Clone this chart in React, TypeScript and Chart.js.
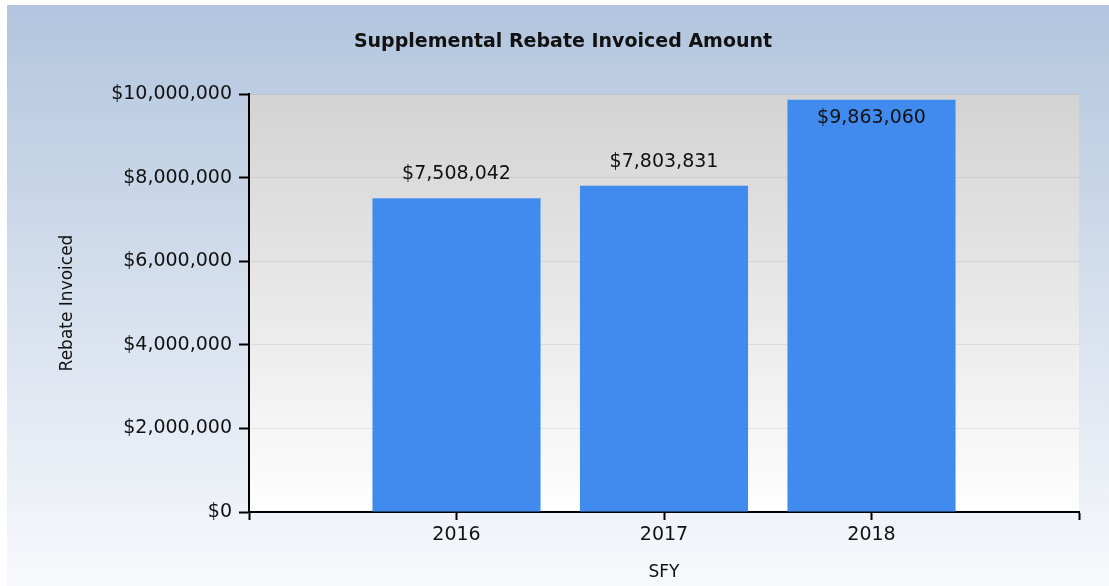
import React, { useEffect, useRef } from "react";
import { Chart, registerables } from "chart.js";

Chart.register(...registerables);

const chartTitle = "Supplemental Rebate Invoiced Amount";
const categories = ["2016", "2017", "2018"];
const years = [2016, 2017, 2018];
const rebateValues = [7508042, 7803831, 9863060];
const yAxisTitle = "Rebate Invoiced";
const xAxisTitle = "SFY";
const yMin = 0;
const yMax = 10000000;
const yStep = 2000000;
const xMin = 2015;
const xMax = 2019;

const FONT = "'DejaVu Sans', 'Liberation Sans', Arial, sans-serif";
const TEXT = "#111111";

const fmtMoney = (v: number) => "$" + Math.round(v).toLocaleString("en-US");

const backgroundPlugin = {
  id: "bgPlugin",
  beforeDraw(chart: any) {
    const { ctx, width, height, chartArea } = chart;
    ctx.save();
    const g = ctx.createLinearGradient(0, 0, 0, height);
    g.addColorStop(0, "#b2c5de");
    g.addColorStop(1, "#f8f9fc");
    ctx.fillStyle = g;
    ctx.fillRect(0, 0, width, height);
    if (chartArea) {
      const g2 = ctx.createLinearGradient(0, chartArea.top, 0, chartArea.bottom);
      g2.addColorStop(0, "#d3d3d3");
      g2.addColorStop(1, "#fefefe");
      ctx.fillStyle = g2;
      ctx.fillRect(chartArea.left, chartArea.top, chartArea.right - chartArea.left, chartArea.bottom - chartArea.top);
    }
    // chart title
    ctx.font = `bold 19px ${FONT}`;
    ctx.fillStyle = TEXT;
    ctx.textAlign = "center";
    ctx.textBaseline = "middle";
    ctx.fillText(chartTitle, 556, 37);
    ctx.restore();
  },
};

const labelPlugin = {
  id: "valueLabels",
  afterDatasetsDraw(chart: any) {
    const { ctx, chartArea } = chart;
    const meta = chart.getDatasetMeta(0);
    ctx.save();
    ctx.font = `19px ${FONT}`;
    ctx.fillStyle = TEXT;
    ctx.textAlign = "center";
    ctx.textBaseline = "middle";
    meta.data.forEach((bar: any, i: number) => {
      const text = fmtMoney(rebateValues[i]);
      let y = bar.y - 24;
      if (y - 12 < chartArea.top) y = bar.y + 18;
      ctx.fillText(text, bar.x, y);
    });
    ctx.restore();
  },
};

export default function App() {
  const ref = useRef<HTMLCanvasElement | null>(null);

  useEffect(() => {
    document.body.style.margin = "0";
    const canvas = ref.current;
    if (!canvas) return;
    const chart = new Chart(canvas, {
      type: "bar",
      data: {
        labels: categories,
        datasets: [
          {
            label: yAxisTitle,
            data: years.map((x, i) => ({ x, y: rebateValues[i] })) as any,
            backgroundColor: "#428bee",
            borderWidth: 0,
            barPercentage: 0.9,
            categoryPercentage: 0.9,
          },
        ],
      },
      options: {
        responsive: false,
        animation: false,
        devicePixelRatio: 1,
        layout: { padding: { top: 89, right: 30, bottom: 0, left: 0 } },
        plugins: {
          legend: { display: false },
          tooltip: { enabled: false },
          title: { display: false },
        },
        scales: {
          x: {
            type: "linear",
            min: xMin,
            max: xMax,
            offset: false,
            grid: {
              offset: false,
              drawOnChartArea: false,
              drawTicks: true,
              tickLength: 8,
              tickColor: "#000",
              tickWidth: 2,
            },
            border: { display: true, color: "#000", width: 2 },
            ticks: {
              stepSize: 1,
              autoSkip: false,
              maxRotation: 0,
              padding: 4,
              color: TEXT,
              font: { family: FONT, size: 19 },
              callback: (v: any) => (v === xMin || v === xMax ? "" : String(v)),
            },
            title: {
              display: true,
              text: xAxisTitle,
              color: TEXT,
              font: { family: FONT, size: 17 },
              padding: { top: 0, bottom: 3 },
            },
            afterFit: (s: any) => {
              s.height = 74;
            },
          } as any,
          y: {
            min: yMin,
            max: yMax,
            grid: {
              color: "rgba(0,0,0,0.07)",
              tickColor: "#000",
              tickLength: 10,
              tickWidth: 2,
            },
            border: { display: true, color: "#000", width: 2 },
            ticks: {
              stepSize: yStep,
              padding: 7,
              color: TEXT,
              font: { family: FONT, size: 19 },
              callback: (v: any) => fmtMoney(Number(v)),
            },
            title: {
              display: true,
              text: yAxisTitle,
              color: TEXT,
              font: { family: FONT, size: 17 },
              padding: { top: 50, bottom: 0 },
            },
            afterFit: (s: any) => {
              s.width = 242;
            },
          } as any,
        },
      },
      plugins: [backgroundPlugin, labelPlugin],
    });
    return () => chart.destroy();
  }, []);

  return (
    <div style={{ position: "relative", width: 1109, height: 586, background: "#fff" }}>
      <canvas
        ref={ref}
        width={1102}
        height={581}
        style={{ position: "absolute", left: 7, top: 5, width: 1102, height: 581 }}
      />
    </div>
  );
}
